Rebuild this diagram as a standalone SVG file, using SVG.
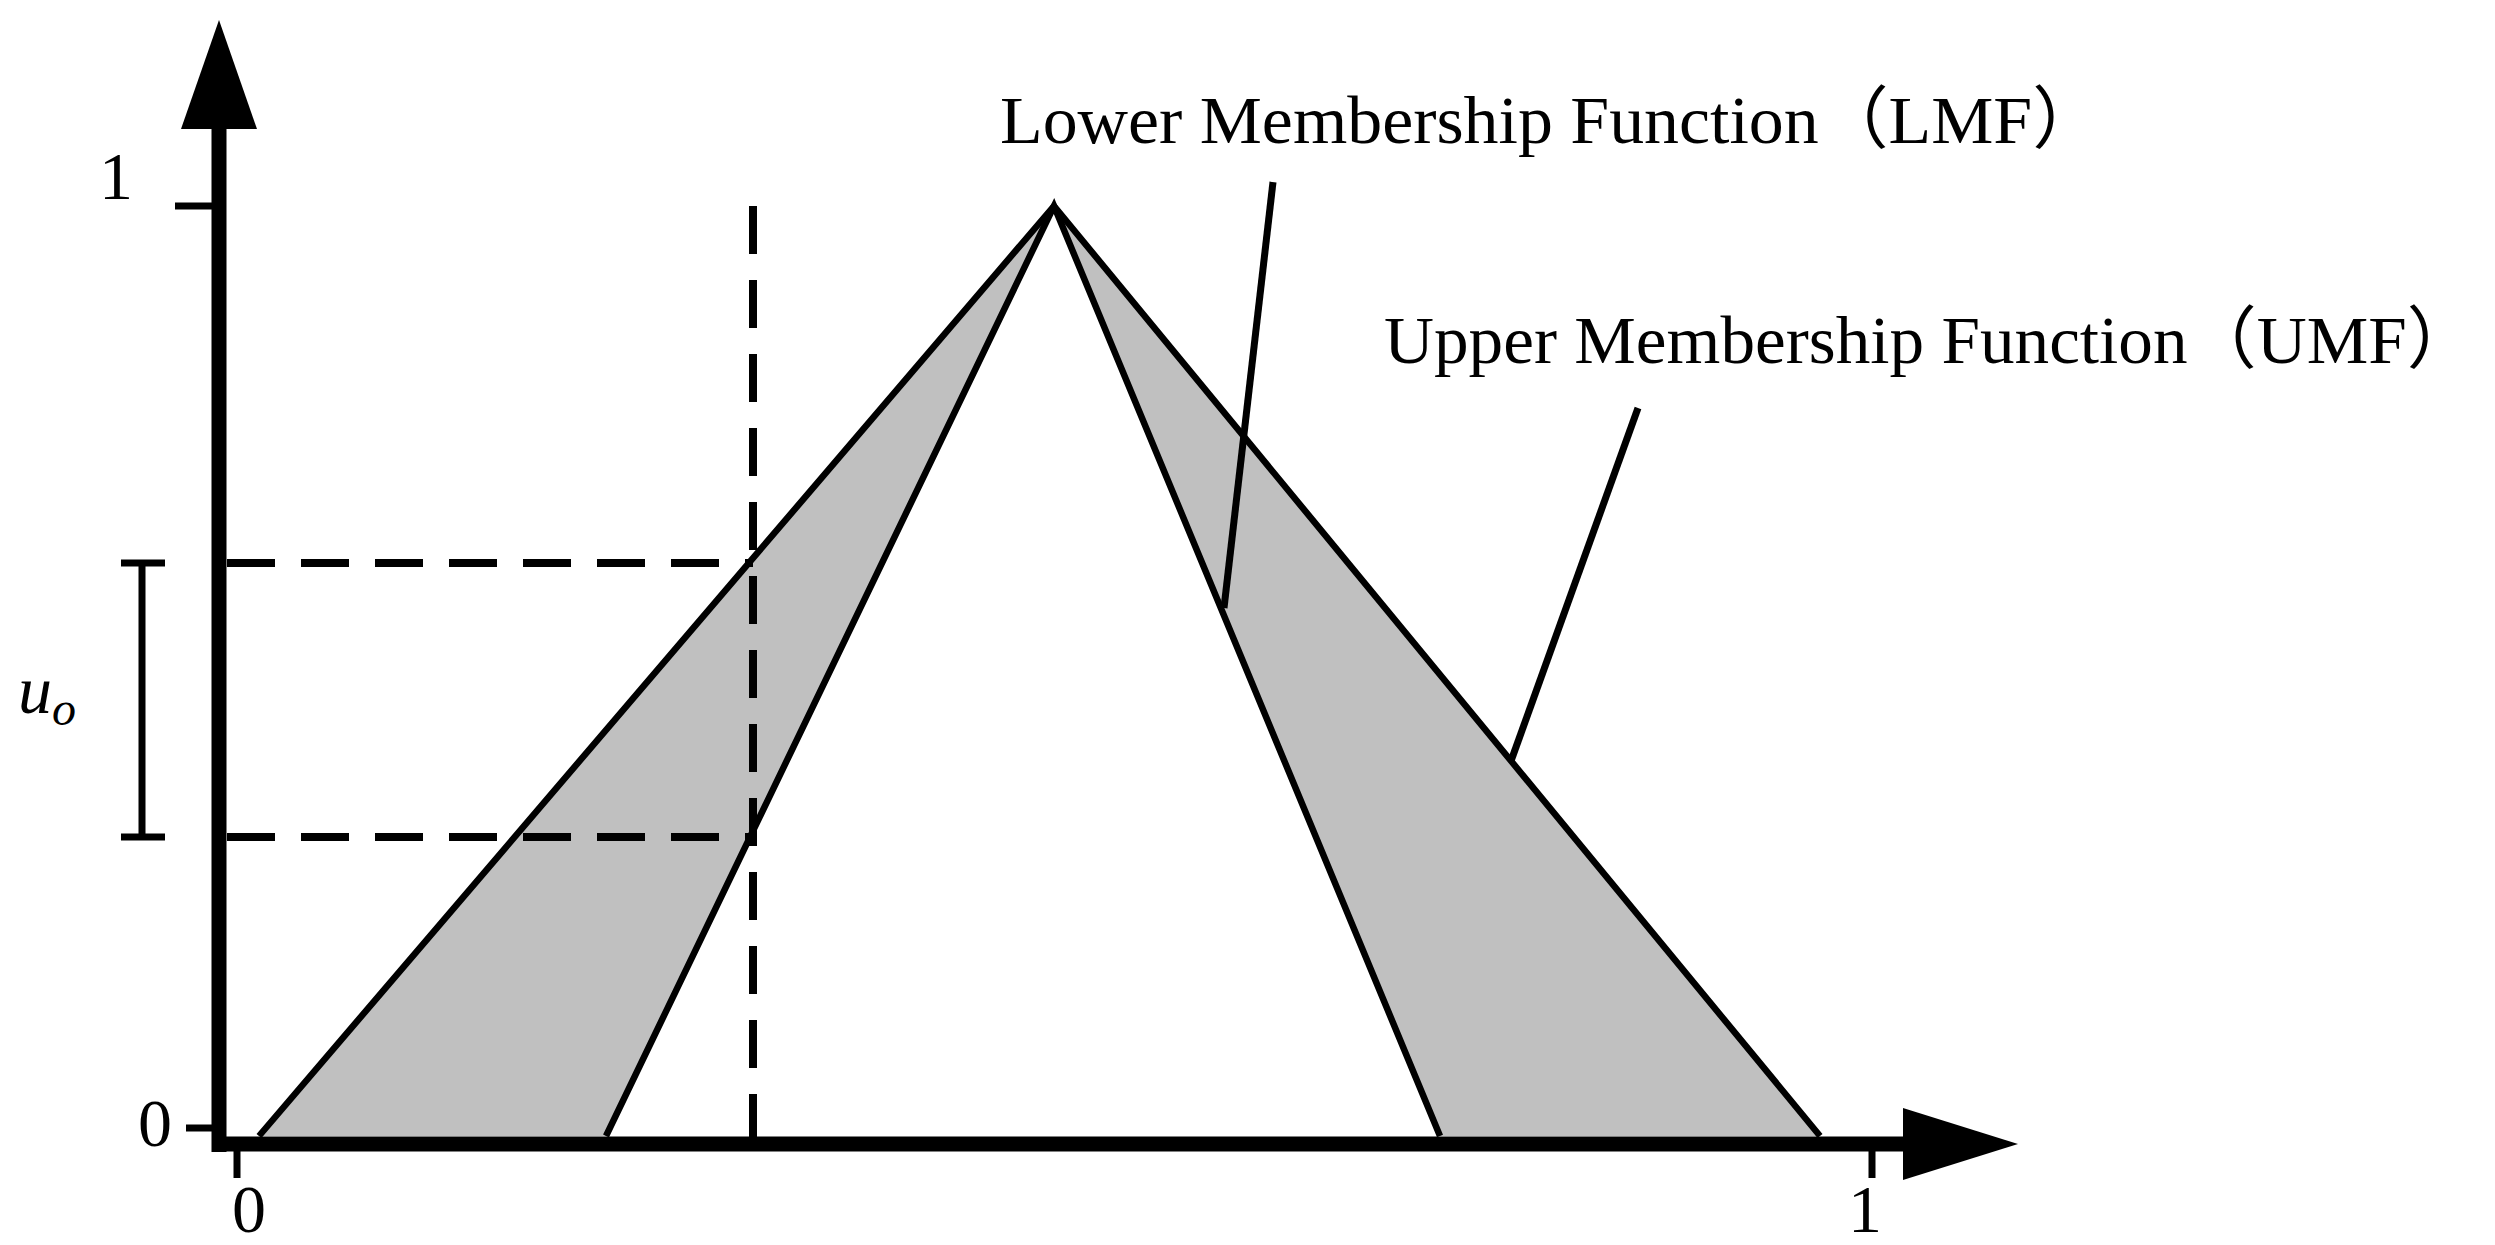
<svg xmlns="http://www.w3.org/2000/svg" width="2495" height="1245" viewBox="0 0 2495 1245">
<style>
.t{font-family:"Liberation Serif","Noto Sans CJK SC",serif;font-size:68px;fill:#000}
.f{stroke:#000;stroke-width:6.5;fill:none;stroke-linejoin:miter}
.d{stroke:#000;stroke-width:8;fill:none;stroke-dasharray:48 26}
.k{stroke:#000;stroke-width:7;fill:none}
</style>
<rect width="2495" height="1245" fill="#fff"/>
<g id="fill">
<polygon points="259,1136 1054,206 606,1136" fill="#c0c0c0"/>
<polygon points="1054,206 1820,1136 1440,1136" fill="#c0c0c0"/>
</g>
<g id="connectors">
<polyline class="f" points="259,1136 1054,206 1820,1136"/>
<polyline class="f" points="606,1136 1054,206 1440,1136"/>
<line class="d" x1="753" y1="206" x2="753" y2="1140" stroke-dasharray="8 24 48 24 48 24 48 24 48 24 48 24 48 24 48 24 48 24 48 24 48 24 48 24 48"/>
<line class="d" x1="227" y1="563" x2="753" y2="563"/>
<line class="d" x1="227" y1="837" x2="753" y2="837"/>
<line class="k" x1="1273" y1="182" x2="1224" y2="608"/>
<line class="k" x1="1638" y1="408" x2="1511" y2="761"/>
<line class="k" x1="142" y1="563" x2="142" y2="837"/>
<line class="k" x1="121" y1="563" x2="165" y2="563"/>
<line class="k" x1="121" y1="837" x2="165" y2="837"/>
</g>
<g id="axes">
<line x1="219" y1="120" x2="219" y2="1152" stroke="#000" stroke-width="15"/>
<line x1="212" y1="1144" x2="1910" y2="1144" stroke="#000" stroke-width="15"/>
<polygon points="219,20 181,129 257,129" fill="#000"/>
<polygon points="2018,1144 1903,1108 1903,1180" fill="#000"/>
<line class="k" x1="175" y1="206" x2="219" y2="206"/>
<line class="k" x1="186" y1="1128" x2="219" y2="1128"/>
<line class="k" x1="237" y1="1144" x2="237" y2="1178"/>
<line class="k" x1="1872" y1="1144" x2="1872" y2="1178"/>
</g>
<g id="labels">
<text class="t" x="116" y="199" text-anchor="middle">1</text>
<text class="t" x="155" y="1146" text-anchor="middle">0</text>
<text class="t" x="249" y="1232" text-anchor="middle">0</text>
<text class="t" x="1865" y="1232" text-anchor="middle">1</text>
<text class="t" x="18" y="713" font-style="italic">u<tspan font-size="48" dy="12">o</tspan></text>
<text class="t" x="1000" y="143" textLength="1102" lengthAdjust="spacingAndGlyphs">Lower Membership Function（LMF）</text>
<text class="t" x="1384" y="363" textLength="1092" lengthAdjust="spacingAndGlyphs">Upper Membership Function（UMF）</text>
</g>
</svg>
